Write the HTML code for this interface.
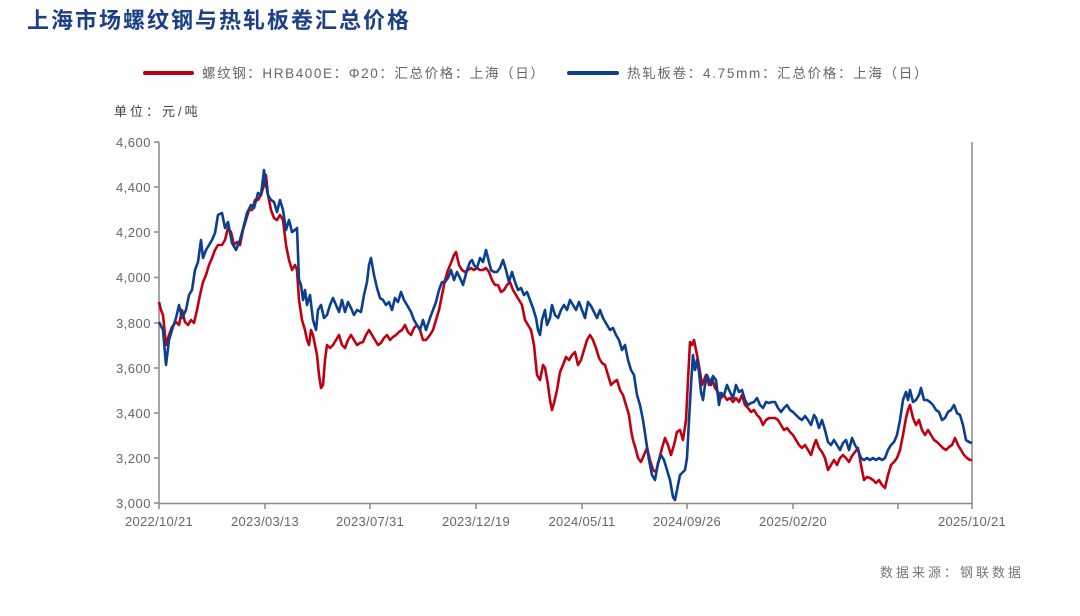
<!DOCTYPE html>
<html><head><meta charset="utf-8"><style>
body{margin:0;background:#fff;}
svg text{font-family:"Liberation Sans","Noto Sans CJK SC",sans-serif;}
</style></head><body>
<svg width="1080" height="611" xmlns="http://www.w3.org/2000/svg">
<rect width="1080" height="611" fill="#fff"/>
<text x="27" y="28" font-size="22" font-weight="bold" fill="#1c3f85" letter-spacing="2" style="font-family:'Noto Sans CJK SC',sans-serif">上海市场螺纹钢与热轧板卷汇总价格</text>
<line x1="145" y1="73" x2="192" y2="73" stroke="#c00010" stroke-width="4" stroke-linecap="round"/>
<text x="202" y="78" font-size="13.5" fill="#666" letter-spacing="1.6">螺纹钢：HRB400E：Φ20：汇总价格：上海（日）</text>
<line x1="569" y1="73" x2="617" y2="73" stroke="#0b3f8f" stroke-width="4" stroke-linecap="round"/>
<text x="627" y="78" font-size="13.5" fill="#666" letter-spacing="1.7">热轧板卷：4.75mm：汇总价格：上海（日）</text>
<text x="114" y="116" font-size="13" fill="#444" letter-spacing="3">单位：元/吨</text>
<g stroke="#888" stroke-width="1.5" fill="none">
<line x1="159" y1="142" x2="159" y2="504"/>
<line x1="159" y1="503.5" x2="972" y2="503.5"/>
<line x1="972" y1="142" x2="972" y2="504"/>
<path d="M154 142H159M154 187H159M154 232H159M154 277.5H159M154 323H159M154 368H159M154 413H159M154 458H159M154 503H159"/>
<path d="M159 503v6M265 503v6M370 503v6M476 503v6M582 503v6M687 503v6M793 503v6M898 503v6M972 503v6"/>
</g>
<g font-size="13" fill="#666" text-anchor="end" letter-spacing="0.5">
<text x="151" y="147">4,600</text><text x="151" y="192">4,400</text><text x="151" y="237">4,200</text><text x="151" y="282">4,000</text><text x="151" y="328">3,800</text><text x="151" y="373">3,600</text><text x="151" y="418">3,400</text><text x="151" y="463">3,200</text><text x="151" y="508">3,000</text>
</g>
<g font-size="13" fill="#666" text-anchor="middle" letter-spacing="0.3">
<text x="159" y="526">2022/10/21</text><text x="265" y="526">2023/03/13</text><text x="370" y="526">2023/07/31</text><text x="476" y="526">2023/12/19</text><text x="582" y="526">2024/05/11</text><text x="687" y="526">2024/09/26</text><text x="793" y="526">2025/02/20</text><text x="972" y="526">2025/10/21</text>
</g>
<polyline fill="none" stroke="#c00010" stroke-width="2.6" stroke-linejoin="round" points="159,302 161,310 163,315 166,345 169,335 172,327 176,322 179,325 182,310 185,322 188,325 191,320 194,323 197,310 200,295 203,282 206,275 209,265 212,258 215,250 218,245 222,245 225,240 228,228 231,232 234,245 237,242 240,245 243,230 246,220 249,210 252,210 255,200 258,200 261,195 264,185 266,175 268,195 271,210 274,218 277,220 280,215 283,220 286,245 289,260 292,270 295,265 297,270 299,300 302,320 305,330 307,340 309,345 311,330 313,335 315,345 317,355 319,375 321,388 323,385 325,360 327,345 330,348 333,345 336,340 339,335 342,345 345,348 348,340 351,335 354,340 357,345 360,343 363,342 366,335 369,330 372,335 375,340 378,345 381,343 384,338 387,335 390,340 393,337 396,335 399,332 402,330 405,325 408,332 411,335 414,328 417,325 420,330 423,340 426,340 430,335 433,330 436,320 439,310 442,295 445,280 448,270 451,263 454,255 456,252 459,265 462,270 465,272 468,270 471,268 474,270 477,268 480,270 483,270 486,268 489,272 492,280 495,285 498,285 501,292 504,290 507,285 510,282 513,290 516,295 519,300 522,305 525,320 528,325 531,330 534,345 537,375 540,380 543,365 545,368 548,385 550,400 552,410 554,403 557,390 560,372 563,365 566,357 569,360 572,355 575,352 578,365 581,360 584,350 587,340 590,335 593,340 596,348 599,358 602,363 605,365 608,375 611,385 614,382 617,380 620,390 623,395 626,405 629,415 631,430 633,440 636,450 638,458 641,462 644,455 647,448 650,460 653,470 656,472 659,460 662,448 665,438 668,445 671,455 674,445 677,432 680,430 683,440 686,420 688,380 690,342 692,345 694,340 696,350 698,360 700,372 702,385 704,380 706,375 709,385 712,378 715,388 718,392 721,398 724,395 727,400 730,398 733,402 736,398 739,402 742,395 745,405 748,408 751,412 754,410 757,415 760,418 763,425 766,420 769,418 772,418 775,418 778,420 781,425 784,430 787,428 790,432 793,435 796,440 799,445 802,448 805,445 808,450 811,455 814,445 816,440 819,448 822,452 825,458 828,470 831,465 834,460 837,465 840,458 843,455 846,458 849,462 852,456 855,452 858,448 861,465 864,480 867,477 870,478 873,480 876,483 879,480 882,485 885,488 888,475 891,465 894,462 897,458 900,450 903,435 906,418 908,410 910,405 913,418 916,425 919,420 922,430 925,435 928,430 931,435 934,440 937,442 940,445 943,448 946,450 949,447 952,445 955,438 958,445 961,450 964,455 967,458 970,460 972,460"/>
<polyline fill="none" stroke="#0b3f8f" stroke-width="2.6" stroke-linejoin="round" points="159,322 163,330 166,365 169,340 172,330 176,318 179,305 182,318 186,310 189,295 192,290 195,270 198,262 201,240 203,258 206,250 209,245 212,240 215,233 218,215 222,213 225,228 228,222 232,243 236,250 240,240 244,225 247,213 251,205 254,208 258,193 261,195 264,170 266,185 268,195 271,200 274,202 277,212 280,200 283,210 286,230 289,220 292,232 295,230 297,228 299,280 301,285 303,300 305,290 307,305 310,295 313,320 316,330 318,310 321,305 324,318 327,315 330,305 333,298 336,305 339,312 342,300 345,312 348,302 351,308 354,315 357,310 361,312 364,295 367,282 369,265 371,258 374,275 377,288 380,298 383,300 386,305 389,302 392,310 395,298 398,302 401,292 404,300 407,305 411,312 414,320 417,325 420,330 423,320 426,330 430,318 433,310 436,302 439,290 442,282 445,282 448,278 451,270 454,280 457,272 460,278 463,285 467,270 470,262 472,260 474,265 477,268 480,258 483,262 486,250 488,258 491,270 494,272 497,272 500,268 503,260 506,270 509,282 512,272 515,282 518,290 521,288 524,295 527,292 530,300 533,308 536,318 538,330 540,335 542,320 545,310 547,325 550,318 552,305 555,315 558,318 561,310 564,305 567,310 570,300 573,305 576,310 579,302 582,310 585,318 588,302 591,306 594,312 597,318 600,310 603,318 607,325 610,330 613,328 616,335 619,340 622,350 625,345 628,360 631,370 634,375 637,395 640,405 643,420 646,440 649,460 652,475 655,480 658,463 661,455 664,460 667,470 670,480 673,497 675,500 677,490 680,475 683,472 685,470 687,458 689,420 691,385 693,355 695,370 697,360 699,372 701,392 703,400 705,385 707,375 709,380 711,385 713,376 716,380 719,405 721,393 724,395 727,385 730,392 733,398 736,385 739,392 742,390 745,400 748,405 751,403 754,402 757,398 760,405 763,408 766,402 769,403 772,402 775,402 778,408 781,412 784,408 787,405 790,410 793,412 796,415 799,418 802,420 805,416 808,420 811,425 814,415 816,418 819,428 822,420 825,430 828,442 831,445 834,440 837,445 840,450 843,443 846,440 849,450 852,438 855,445 858,450 861,458 864,460 867,458 870,460 873,458 876,460 879,458 882,460 885,458 888,450 891,445 894,442 897,435 900,420 903,400 906,392 908,400 910,390 913,402 916,400 919,395 921,388 924,400 927,400 930,402 933,405 936,410 939,412 942,420 945,418 948,412 951,410 954,405 957,413 960,415 963,425 966,440 969,442 972,443"/>
<text x="1024" y="577" font-size="13" fill="#777" text-anchor="end" letter-spacing="3">数据来源：钢联数据</text>
</svg>
</body></html>
